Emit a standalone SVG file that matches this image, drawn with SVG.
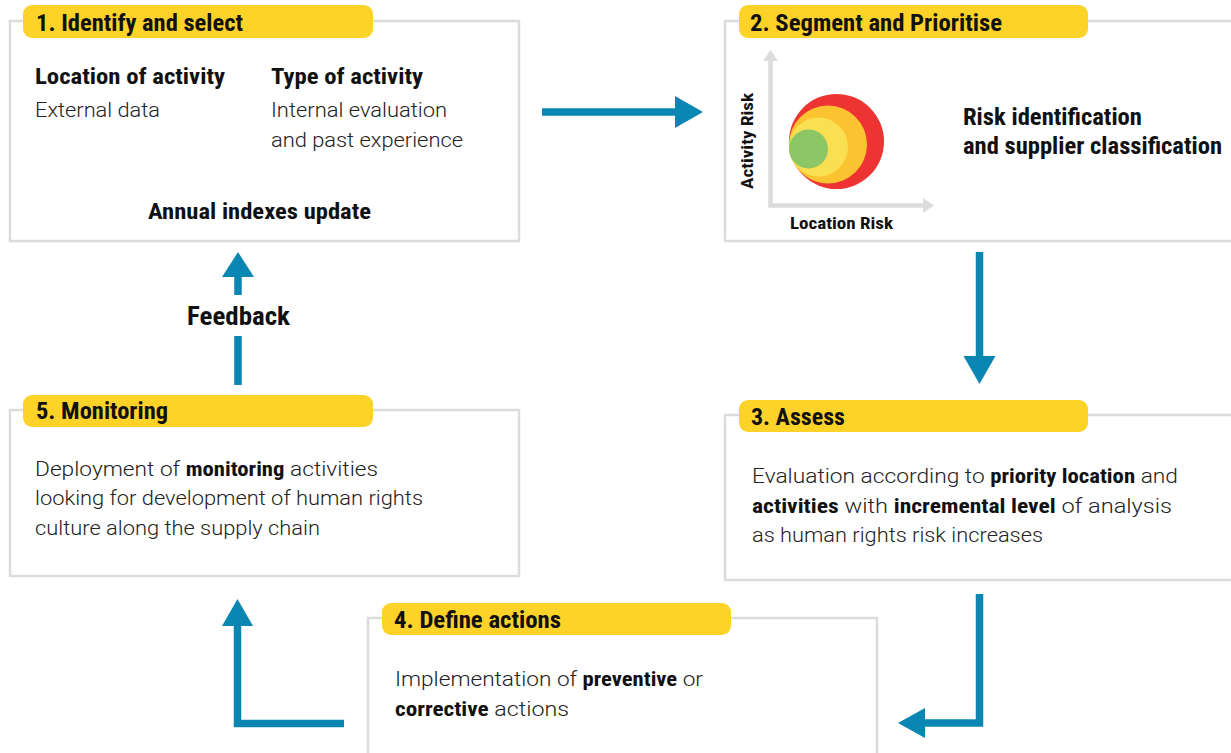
<svg xmlns="http://www.w3.org/2000/svg" width="1231" height="753" viewBox="0 0 1231 753">
<style>
.box{fill:#fff;stroke:#dcdcdc;stroke-width:2.5}
.pill{fill:#fdd32a}
.t{font-family:"Roboto Condensed",Roboto,"Liberation Sans",sans-serif;font-weight:700;fill:#111}
.title{font-size:23px}
.b{font-family:"Roboto Condensed",Roboto,"Liberation Sans",sans-serif;font-weight:700}
.l{font-family:Roboto,"Liberation Sans",sans-serif;font-weight:300;font-size:21px;fill:#222}
.conn{fill:none;stroke:#0a86b3;stroke-width:7.5}
.head{fill:#0a86b3}
.axis{fill:none;stroke:#dcdcdc;stroke-width:4.5}
.axh{fill:#dcdcdc}
</style>
<rect width="1231" height="753" fill="#fff"/>

<g id="node1">
<rect class="box" x="10" y="21" width="509" height="220"/>
<rect class="pill" x="23" y="5" width="350" height="33" rx="9"/>
<text class="t title" x="36" y="31" textLength="207" lengthAdjust="spacingAndGlyphs">1. Identify and select</text>
<text class="t" x="35" y="84" font-size="22" textLength="190" lengthAdjust="spacingAndGlyphs">Location of activity</text>
<text class="t" x="271" y="84" font-size="22" textLength="152" lengthAdjust="spacingAndGlyphs">Type of activity</text>
<text class="l" x="35" y="117" textLength="125" lengthAdjust="spacingAndGlyphs">External data</text>
<text class="l" x="271" y="117" textLength="176" lengthAdjust="spacingAndGlyphs">Internal evaluation</text>
<text class="l" x="271" y="147" textLength="192" lengthAdjust="spacingAndGlyphs">and past experience</text>
<text class="t" x="148" y="219" font-size="22" textLength="223" lengthAdjust="spacingAndGlyphs">Annual indexes update</text>
</g>

<g id="node2">
<rect class="box" x="725" y="21" width="520" height="220"/>
<rect class="pill" x="739" y="5" width="349" height="33" rx="9"/>
<text class="t title" x="750" y="31" textLength="252" lengthAdjust="spacingAndGlyphs">2. Segment and Prioritise</text>
<path class="axis" d="M770.5,58 V205.5 H926"/>
<polygon class="axh" points="770.5,50 778,61 763,61"/>
<polygon class="axh" points="934,205.5 923,198 923,213"/>
<circle cx="836.5" cy="141.5" r="47.5" fill="#ee3333"/>
<circle cx="828" cy="144.5" r="39" fill="#fcc331"/>
<circle cx="818.5" cy="147" r="29.5" fill="#f8e052"/>
<circle cx="808.5" cy="149" r="19.5" fill="#8cc665"/>
<text class="t" font-size="16" transform="translate(753,189) rotate(-90)" textLength="96" lengthAdjust="spacingAndGlyphs">Activity Risk</text>
<text class="t" x="790" y="229" font-size="16" textLength="103" lengthAdjust="spacingAndGlyphs">Location Risk</text>
<text class="t" x="963" y="125" font-size="23" textLength="179" lengthAdjust="spacingAndGlyphs">Risk identification</text>
<text class="t" x="963" y="154" font-size="23" textLength="259" lengthAdjust="spacingAndGlyphs">and supplier classification</text>
</g>

<g id="node3">
<rect class="box" x="725" y="415" width="520" height="165"/>
<rect class="pill" x="739" y="400" width="349" height="32" rx="9"/>
<text class="t title" x="751" y="425" textLength="94" lengthAdjust="spacingAndGlyphs">3. Assess</text>
<text class="l" x="752" y="483" textLength="426" lengthAdjust="spacingAndGlyphs">Evaluation according to <tspan class="b" fill="#111">priority location</tspan> and</text>
<text class="l" x="752" y="513" textLength="420" lengthAdjust="spacingAndGlyphs"><tspan class="b" fill="#111">activities</tspan> with <tspan class="b" fill="#111">incremental level</tspan> of analysis</text>
<text class="l" x="752" y="542" textLength="291" lengthAdjust="spacingAndGlyphs">as human rights risk increases</text>
</g>

<g id="node4">
<rect class="box" x="368" y="618" width="509" height="150"/>
<rect class="pill" x="382" y="603" width="349" height="32" rx="9"/>
<text class="t title" x="394" y="628" textLength="167" lengthAdjust="spacingAndGlyphs">4. Define actions</text>
<text class="l" x="395" y="686" textLength="308" lengthAdjust="spacingAndGlyphs">Implementation of <tspan class="b" fill="#111">preventive</tspan> or</text>
<text class="l" x="395" y="716" textLength="174" lengthAdjust="spacingAndGlyphs"><tspan class="b" fill="#111">corrective</tspan> actions</text>
</g>

<g id="node5">
<rect class="box" x="10" y="410" width="509" height="166"/>
<rect class="pill" x="23" y="395" width="350" height="32" rx="9"/>
<text class="t title" x="36" y="419" textLength="132" lengthAdjust="spacingAndGlyphs">5. Monitoring</text>
<text class="l" x="35" y="476" textLength="343" lengthAdjust="spacingAndGlyphs">Deployment of <tspan class="b" fill="#111">monitoring</tspan> activities</text>
<text class="l" x="35" y="505" textLength="388" lengthAdjust="spacingAndGlyphs">looking for development of human rights</text>
<text class="l" x="35" y="535" textLength="285" lengthAdjust="spacingAndGlyphs">culture along the supply chain</text>
</g>

<g id="connectors">
<path class="conn" d="M542,112 H676"/>
<polygon class="head" points="703,112 675,96 675,128"/>
<path class="conn" d="M979.5,252 V357"/>
<polygon class="head" points="979.5,384 963.5,356 995.5,356"/>
<path class="conn" d="M979.5,594 V723 H924"/>
<polygon class="head" points="898,723 925,708 925,738"/>
<path class="conn" d="M344,723.5 H237.5 V625"/>
<polygon class="head" points="237.5,599 222,626 253,626"/>
<path class="conn" d="M238,385 V336"/>
<path class="conn" d="M238,295 V276"/>
<polygon class="head" points="238,252 222,277 254,277"/>
<text class="t" x="187" y="325" font-size="25" textLength="103" lengthAdjust="spacingAndGlyphs">Feedback</text>
</g>
</svg>
